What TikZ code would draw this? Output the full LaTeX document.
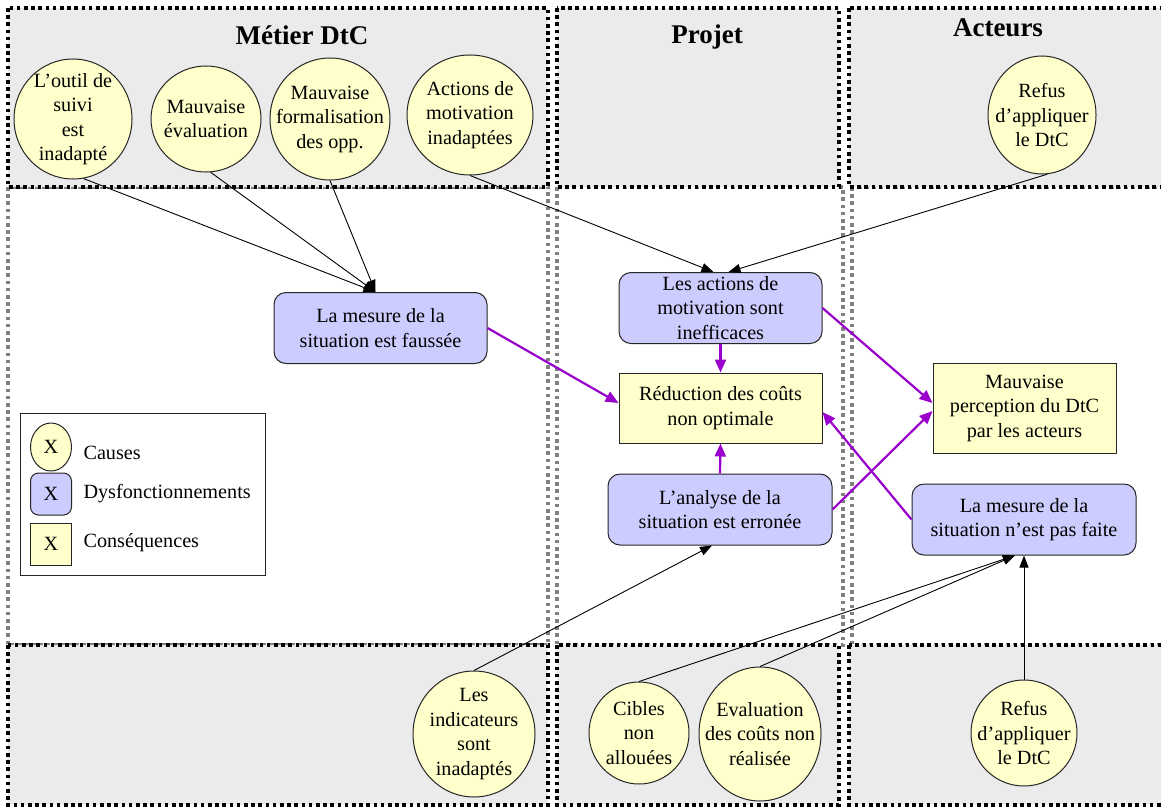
\documentclass[tikz,border=0pt]{standalone}
\usepackage{fontspec}
\setmainfont{Liberation Serif}
\usetikzlibrary{shapes.geometric,arrows.meta}
\definecolor{causefill}{HTML}{FFFFCC}
\definecolor{dysfill}{HTML}{CCCCFF}
\definecolor{zonefill}{HTML}{EBEBEB}
\definecolor{zonegray}{HTML}{808080}
\definecolor{flowpurple}{HTML}{9900CC}
\begin{document}
\begin{tikzpicture}[x=1pt,y=-1pt,
  every node/.style={font=\fontsize{20.2}{24.5}\selectfont},
  zone/.style={line width=3.6pt, dash pattern=on 3.6pt off 3.6pt},
  topzone/.style={zone, draw=black, fill=zonefill},
  midzone/.style={zone, draw=zonegray, fill=white},
  cause/.style={ellipse, draw=black!85, line width=1pt, fill=causefill, inner sep=0pt},
  ctext/.style={align=center, inner sep=0pt},
  dysf/.style={rectangle, rounded corners=12pt, draw=black!85, line width=1pt, fill=dysfill, align=center, inner sep=2pt},
  conseq/.style={rectangle, draw=black!85, line width=1pt, fill=causefill, align=center, inner sep=2pt},
  title/.style={font=\fontsize{27}{32}\selectfont\bfseries, anchor=base},
  causal/.style={-{Triangle[length=12pt,width=9pt]}, line width=0.9pt, black},
  effect/.style={-{Triangle[length=13pt,width=11pt]}, line width=2.2pt, flowpurple},
]
\useasboundingbox (0,0) rectangle (1161,808);
\clip (0,0) rectangle (1161,808);
\fill[white] (0,0) rectangle (1161,808);

% zones: middle band (grey frames), then top and bottom bands
\path[midzone] (8,187) rectangle (548,645);
\path[midzone] (557,187) rectangle (843,645);
\path[midzone] (852,187) rectangle (1180,645);
\path[topzone] (8,8) rectangle (548,187);
\path[topzone] (557,8) rectangle (839,187);
\path[topzone] (849,8) rectangle (1180,187);
\path[topzone] (8,645) rectangle (548,805);
\path[topzone] (557,645) rectangle (839,805);
\path[topzone] (849,645) rectangle (1180,805);

\node[title] (t1) at (302,45) {Métier DtC};
\node[title] (t2) at (707,44) {Projet};
\node[title] (t3) at (998,37) {Acteurs};

% causes
\node[cause, minimum width=118pt, minimum height=120pt,
  label={[ctext]center:{L’outil de\\suivi\\est\\inadapté}}] (e1) at (73,119) {};
\node[cause, minimum width=110pt, minimum height=106pt,
  label={[ctext]center:{Mauvaise\\évaluation}}] (e2) at (206,119) {};
\node[cause, minimum width=120pt, minimum height=122pt,
  label={[ctext]center:{Mauvaise\\formalisation\\des opp.}}] (e3) at (330,119) {};
\node[cause, minimum width=126pt, minimum height=120pt,
  label={[ctext]center:{Actions de\\motivation\\inadaptées}}] (e4) at (470,115) {};
\node[cause, minimum width=108pt, minimum height=118pt,
  label={[ctext]center:{Refus\\d’appliquer\\le DtC}}] (e5) at (1042,115) {};
\node[cause, minimum width=122pt, minimum height=126pt,
  label={[ctext]center:{Les\\indicateurs\\sont\\inadaptés}}] (e6) at (474,734) {};
\node[cause, minimum width=100pt, minimum height=102pt,
  label={[ctext]center:{Cibles\\non\\allouées}}] (e7) at (639,733) {};
\node[cause, minimum width=122pt, minimum height=134pt,
  label={[ctext]center:{Evaluation\\des coûts non\\réalisée}}] (e8) at (760,734) {};
\node[cause, minimum width=106pt, minimum height=106pt,
  label={[ctext]center:{Refus\\d’appliquer\\le DtC}}] (e9) at (1024,733) {};

% dysfunctions
\node[dysf, minimum width=213pt, minimum height=71pt] (A) at (380.5,328) {La mesure de la\\situation est faussée};
\node[dysf, minimum width=203pt, minimum height=71pt] (B) at (720.5,308) {Les actions de\\motivation sont\\inefficaces};
\node[dysf, minimum width=224pt, minimum height=71pt] (C) at (720,509.5) {L’analyse de la\\situation est erronée};
\node[dysf, minimum width=224pt, minimum height=71pt] (D) at (1024,519.5) {La mesure de la\\situation n’est pas faite};

% consequences
\node[conseq, minimum width=203pt, minimum height=70pt] (E) at (720.5,408) {Réduction des coûts\\non optimale};
\node[conseq, minimum width=183pt, minimum height=90pt] (F) at (1024.5,408) {Mauvaise\\perception du DtC\\par les acteurs};

% legend
\node[draw=black!85, line width=1pt, fill=white, minimum width=245pt, minimum height=162pt, inner sep=0pt] (legend) at (142.5,494) {};
\node[cause, minimum width=41pt, minimum height=48pt] (lg1) at (51,447) {X};
\node[dysf, rounded corners=8pt, minimum width=41pt, minimum height=42pt] (lg2) at (51,494) {X};
\node[conseq, minimum width=41pt, minimum height=42pt] (lg3) at (51,544) {X};
\node[anchor=west] (lt1) at (80,453) {Causes};
\node[anchor=west] (lt2) at (80,494) {Dysfonctionnements};
\node[anchor=west] (lt3) at (80,543) {Conséquences};

% causes -> dysfunctions
\draw[causal] (e1.-80) -- ([xshift=-5pt]A.north);
\draw[causal] (e2.-85) -- ([xshift=-5pt]A.north);
\draw[causal] (e3.south) -- ([xshift=-5pt]A.north);
\draw[causal] (e4.south) -- ([xshift=-7pt]B.north);
\draw[causal] (e5.-85) -- ([xshift=8pt]B.north);
\draw[causal] (e6.north) -- ([xshift=-8pt]C.south);
\draw[causal] (e7.north) -- ([xshift=-9pt]D.south);
\draw[causal] (e8.north) -- ([xshift=-9pt]D.south);
\draw[causal] (e9.north) -- (D.south);

% dysfunctions -> consequences
\draw[effect] (A.east) -- ([yshift=5pt]E.west);
\draw[effect] (B.south) -- (E.north);
\draw[effect] (B.east) -- ([yshift=5pt]F.west);
\draw[effect] (C.north) -- (E.south);
\draw[effect] (C.east) -- ([yshift=-3pt]F.west);
\draw[effect] (D.west) -- ([yshift=-4pt]E.east);
\end{tikzpicture}
\end{document}
